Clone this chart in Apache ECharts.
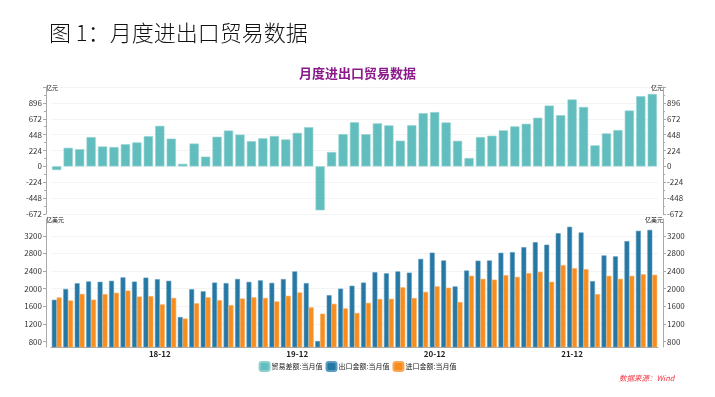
<!DOCTYPE html>
<html>
<head>
<meta charset="utf-8">
<title>月度进出口贸易数据</title>
<script src="https://cdn.jsdelivr.net/npm/echarts@6/dist/echarts.min.js"></script>
<style>
  html, body { margin: 0; padding: 0; background: #fff; }
  #chart { width: 715px; height: 397px; }
</style>
</head>
<body>
<div id="chart"></div>
<script>
// 月份 (2018-03 ~ 2022-07)
const months = [
  '18-03', '18-04', '18-05', '18-06', '18-07', '18-08', '18-09', '18-10', '18-11', '18-12',
  '19-01', '19-02', '19-03', '19-04', '19-05', '19-06', '19-07', '19-08', '19-09', '19-10', '19-11', '19-12',
  '20-01', '20-02', '20-03', '20-04', '20-05', '20-06', '20-07', '20-08', '20-09', '20-10', '20-11', '20-12',
  '21-01', '21-02', '21-03', '21-04', '21-05', '21-06', '21-07', '21-08', '21-09', '21-10', '21-11', '21-12',
  '22-01', '22-02', '22-03', '22-04', '22-05', '22-06', '22-07'
]

// 贸易差额:当月值
const balance = [
  -52, 262, 242, 413, 281, 272, 312, 338, 425, 571,
  391, 35, 322, 137, 418, 505, 448, 355, 396, 428, 380, 472,
  552, -620, 202, 454, 622, 453, 607, 578, 362, 580, 750, 766,
  620, 360, 117, 413, 432, 508, 564, 601, 686, 858, 722, 944,
  838, 296, 465, 512, 788, 990, 1022
]

// 出口金额:当月值
const exportsValue = [
  1750, 1995, 2125, 2166, 2158, 2180, 2258, 2162, 2252, 2216,
  2180, 1360, 1990, 1942, 2140, 2128, 2222, 2156, 2190, 2133, 2219, 2392,
  2128, 815, 1855, 2002, 2068, 2140, 2375, 2350, 2392, 2365, 2676, 2818,
  2641, 2053, 2413, 2636, 2641, 2815, 2830, 2943, 3056, 2998, 3258, 3404,
  3275, 2173, 2755, 2734, 3079, 3313, 3334
]

// 进口金额:当月值
const importsValue = [
  1802, 1733, 1883, 1753, 1877, 1908, 1958, 1822, 1832, 1645,
  1792, 1325, 1670, 1806, 1740, 1628, 1778, 1806, 1792, 1712, 1840, 1916,
  1577, 1434, 1658, 1555, 1450, 1680, 1768, 1772, 2032, 1790, 1928, 2054,
  2023, 1698, 2294, 2224, 2206, 2307, 2268, 2353, 2384, 2158, 2536, 2464,
  2444, 1877, 2292, 2224, 2292, 2328, 2316
]

const balanceTicks = { min: -672, max: 1120, interval: 224 }
const amountRange = { min: 680, max: 3580 }
const amountTicks = [800, 1200, 1600, 2000, 2400, 2800, 3200]

const COLORS = {
  balance: '#62bebe',
  balanceEdge: '#8dd0d0',
  exports: '#2577a4',
  exportsEdge: '#5c9bc0',
  imports: '#f78d1e',
  importsEdge: '#f9a955',
  axis: '#a9a9a9',
  label: '#333',
  split: '#f3f3f3'
}

const FONT = '"Noto Sans CJK SC", "Noto Sans", sans-serif'
const AXIS_OFFSET = 5

const chart = echarts.init(document.getElementById('chart'), null, { renderer: 'canvas' })

const valueAxisBase = (gridIndex, position, name) => ({
  type: 'value',
  gridIndex,
  position,
  offset: AXIS_OFFSET,
  name,
  nameGap: -4,
  nameTextStyle: {
    fontSize: 6,
    color: '#111',
    fontFamily: FONT,
    align: position === 'left' ? 'left' : 'right'
  },
  axisLine: { show: true, lineStyle: { color: COLORS.axis, width: 1 } },
  axisTick: { show: true, length: 3, lineStyle: { color: COLORS.axis } },
  axisLabel: {
    fontSize: 8,
    color: COLORS.label,
    fontFamily: FONT,
    margin: 4,
    showMaxLabel: false
  }
})

const amountLabel = {
  fontSize: 8,
  color: COLORS.label,
  fontFamily: FONT,
  margin: 4,
  customValues: amountTicks,
  formatter: (value) => String(value)
}

chart.setOption({
  animation: false,
  textStyle: { fontFamily: FONT },
  title: [{
    text: '图 1：月度进出口贸易数据',
    left: 44,
    top: 17,
    textStyle: {
      fontSize: 22,
      fontWeight: 300,
      color: '#111',
      fontFamily: FONT
    }
  }, {
    text: '月度进出口贸易数据',
    left: 'center',
    top: 62,
    textStyle: {
      fontSize: 13,
      fontWeight: 'bold',
      color: '#8b198b',
      fontFamily: FONT
    }
  }],
  legend: {
    left: 'center',
    top: 356,
    itemWidth: 10,
    itemHeight: 9,
    itemGap: 3,
    textStyle: { fontSize: 7, color: '#222', fontFamily: FONT, padding: [0, 0, 0, -3] },
    data: ['贸易差额:当月值', '出口金额:当月值', '进口金额:当月值']
  },
  graphic: [{
    type: 'text',
    left: 619,
    top: 374,
    style: {
      text: '数据来源：Wind',
      fill: '#f5333f',
      font: 'italic 7.5px ' + FONT
    }
  }],
  grid: [
    { left: 46 + AXIS_OFFSET, right: 52 + AXIS_OFFSET, top: 87, height: 127 },
    { left: 46 + AXIS_OFFSET, right: 52 + AXIS_OFFSET, top: 219, height: 128 }
  ],
  xAxis: [{
    type: 'category',
    gridIndex: 0,
    data: months,
    axisLine: { show: false },
    axisTick: { show: false },
    axisLabel: { show: false }
  }, {
    type: 'category',
    gridIndex: 1,
    data: months,
    axisLine: { lineStyle: { color: COLORS.axis } },
    axisTick: {
      alignWithLabel: true,
      length: 3,
      interval: (index) => index % 3 === 0,
      lineStyle: { color: COLORS.axis }
    },
    axisLabel: {
      interval: (index, value) => value.endsWith('-12'),
      fontSize: 8,
      fontWeight: 'bold',
      color: '#222',
      margin: 3,
      fontFamily: FONT
    }
  }],
  yAxis: [{
    ...valueAxisBase(0, 'left', '亿元'),
    ...balanceTicks,
    minorTick: { show: true, splitNumber: 2, length: 2, lineStyle: { color: COLORS.axis } },
    splitLine: { show: true, lineStyle: { color: COLORS.split } }
  }, {
    ...valueAxisBase(0, 'right', '亿元'),
    ...balanceTicks,
    minorTick: { show: true, splitNumber: 2, length: 2, lineStyle: { color: COLORS.axis } },
    splitLine: { show: false }
  }, {
    ...valueAxisBase(1, 'left', '亿美元'),
    ...amountRange,
    axisTick: { show: true, length: 3, customValues: amountTicks, lineStyle: { color: COLORS.axis } },
    axisLabel: amountLabel,
    splitLine: { show: true, lineStyle: { color: COLORS.split } }
  }, {
    ...valueAxisBase(1, 'right', '亿美元'),
    ...amountRange,
    axisTick: { show: true, length: 3, customValues: amountTicks, lineStyle: { color: COLORS.axis } },
    axisLabel: amountLabel,
    splitLine: { show: false }
  }],
  series: [{
    name: '贸易差额:当月值',
    type: 'bar',
    xAxisIndex: 0,
    yAxisIndex: 0,
    barCategoryGap: '20%',
    data: balance,
    itemStyle: { color: COLORS.balance, borderColor: COLORS.balanceEdge, borderWidth: 0.6 }
  }, {
    name: '出口金额:当月值',
    type: 'bar',
    xAxisIndex: 1,
    yAxisIndex: 2,
    barGap: '0%',
    barCategoryGap: '14%',
    data: exportsValue,
    itemStyle: { color: COLORS.exports, borderColor: COLORS.exportsEdge, borderWidth: 0.6 }
  }, {
    name: '进口金额:当月值',
    type: 'bar',
    xAxisIndex: 1,
    yAxisIndex: 2,
    barGap: '0%',
    barCategoryGap: '14%',
    data: importsValue,
    itemStyle: { color: COLORS.imports, borderColor: COLORS.importsEdge, borderWidth: 0.6 }
  }]
})

window.addEventListener('resize', () => chart.resize())
</script>
</body>
</html>
